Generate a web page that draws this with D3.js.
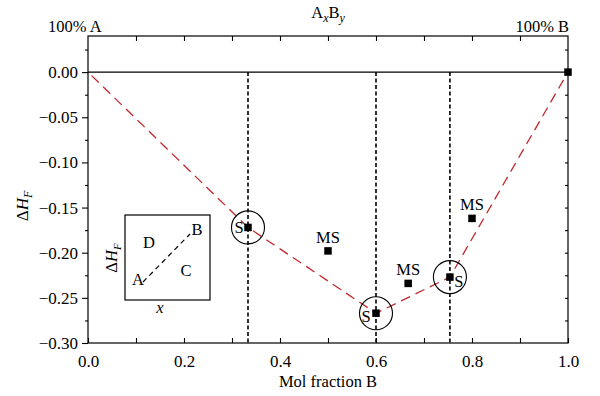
<!DOCTYPE html>
<html>
<head>
<meta charset="utf-8">
<script src="https://cdn.jsdelivr.net/npm/d3@7"></script>
</head>
<body style="margin:0; background:#fff">
<svg id="chart" width="600" height="396"></svg>
<script>
// data
const stableX = [1/3, 0.6, 0.754];
const stableY = [-0.172, -0.267, -0.227];
const msX = [0.5, 0.667, 0.8];
const msY = [-0.198, -0.234, -0.162];
const endX = [1.0];
const endY = [0.0];
const hullX = [0, 1/3, 0.6, 0.754, 1.0];
const hullY = [0, -0.172, -0.267, -0.227, 0];
const xTickLabels = [0, 0.2, 0.4, 0.6, 0.8, 1.0];
const yTickLabels = [0, -0.05, -0.10, -0.15, -0.20, -0.25, -0.30];
const stableLabel = ["S", "S", "S"];
const msLabel = ["MS", "MS", "MS"];

// label offsets for S (pixels)
const sOff = [[-9, 2], [-10, 5], [9, 6]];
const FS = 16.5, TFS = 17;

const svg = d3.select('#chart');
const L = 88, R = 568, T = 36, B = 343;

const x = d3.scaleLinear().domain([0, 1]).range([L, R]);
const y = d3.scaleLinear().domain([-0.30, 0.04]).range([B, T]);

// frame
svg.append('rect')
  .attr('x', L).attr('y', T).attr('width', R - L).attr('height', B - T)
  .attr('fill', 'none').attr('stroke', '#000').attr('stroke-width', 1.2);

// bottom axis, ticks inward
const xAxisB = d3.axisBottom(x).tickValues(d3.range(0, 1.01, 0.1)).tickSizeInner(-5).tickSizeOuter(0)
  .tickFormat(d => xTickLabels.some(v => Math.abs(v - d) < 1e-9) ? d3.format('.1f')(d) : '');
const gb = svg.append('g').attr('transform', `translate(0,${B})`).call(xAxisB);
gb.select('.domain').remove();
gb.selectAll('text').attr('y', 12).attr('dy', '0.71em');

// top axis
const gt = svg.append('g').attr('transform', `translate(0,${T})`)
  .call(d3.axisTop(x).tickValues(d3.range(0.1, 0.95, 0.1)).tickSizeInner(-5).tickSizeOuter(0).tickFormat(''));
gt.select('.domain').remove();

// left axis, outward
const gl = svg.append('g').attr('transform', `translate(${L},0)`)
  .call(d3.axisLeft(y).tickValues(yTickLabels).tickSize(6).tickPadding(4).tickFormat(d3.format('.2f')));
gl.select('.domain').remove();
const glm = svg.append('g').attr('transform', `translate(${L},0)`)
  .call(d3.axisLeft(y).tickValues(d3.range(-0.275, 0.03, 0.05)).tickSize(3).tickFormat(''));
glm.select('.domain').remove();

// right axis minor ticks inward
const gr = svg.append('g').attr('transform', `translate(${R},0)`)
  .call(d3.axisRight(y).tickValues(d3.range(-0.275, 0.03, 0.025)).tickSize(-3).tickFormat(''));
gr.select('.domain').remove();

svg.selectAll('g').attr('font-size', TFS);
svg.selectAll('.tick line').attr('stroke-width', 1.1);

// zero line
svg.append('line')
  .attr('x1', L).attr('x2', R).attr('y1', y(0)).attr('y2', y(0))
  .attr('stroke', '#000').attr('stroke-width', 1.1);

// vertical dashed lines
svg.selectAll('.vline').data(stableX).join('line')
  .attr('x1', d => x(d)).attr('x2', d => x(d))
  .attr('y1', y(0)).attr('y2', B)
  .attr('stroke', '#000').attr('stroke-width', 1.6).attr('stroke-dasharray', '4,2.5');

// hull line
const hull = hullX.map((v, i) => [v, hullY[i]]);
svg.append('path')
  .attr('d', d3.line().x(d => x(d[0])).y(d => y(d[1]))(hull))
  .attr('fill', 'none').attr('stroke', '#c0282d').attr('stroke-width', 1.3)
  .attr('stroke-dasharray', '10,6').attr('stroke-dashoffset', -5);

// circles around stable points
svg.selectAll('.ring').data(stableX).join('circle')
  .attr('cx', d => x(d)).attr('cy', (d, i) => y(stableY[i])).attr('r', 16.5)
  .attr('fill', 'none').attr('stroke', '#000').attr('stroke-width', 1.1);

// markers
const sq = 7.5;
const pts = stableX.map((v, i) => [v, stableY[i]])
  .concat(msX.map((v, i) => [v, msY[i]]))
  .concat(endX.map((v, i) => [v, endY[i]]));
svg.selectAll('.pt').data(pts).join('rect')
  .attr('x', d => x(d[0]) - sq / 2).attr('y', d => y(d[1]) - sq / 2)
  .attr('width', sq).attr('height', sq).attr('fill', '#000');

// S labels
svg.selectAll('.slab').data(stableX).join('text')
  .attr('x', (d, i) => x(d) + sOff[i][0]).attr('y', (d, i) => y(stableY[i]) + sOff[i][1])
  .attr('text-anchor', 'middle').attr('dominant-baseline', 'middle')
  .attr('font-size', FS).text((d, i) => stableLabel[i]);

// MS labels
svg.selectAll('.mslab').data(msX).join('text')
  .attr('x', d => x(d)).attr('y', (d, i) => y(msY[i]) - 8)
  .attr('text-anchor', 'middle').attr('font-size', FS).text((d, i) => msLabel[i]);

// axis titles
svg.append('text').attr('x', (L + R) / 2).attr('y', 387).attr('text-anchor', 'middle')
  .attr('font-size', FS).text('Mol fraction B');

const ylab = svg.append('text').attr('transform', 'translate(28,206) rotate(-90)')
  .attr('text-anchor', 'middle').attr('font-size', 17);
ylab.append('tspan').text('Δ');
ylab.append('tspan').attr('font-style', 'italic').text('H');
ylab.append('tspan').attr('font-style', 'italic').attr('font-size', 12).attr('dy', 4).text('F');

const topTitle = svg.append('text').attr('x', (L + R) / 2).attr('y', 18).attr('text-anchor', 'middle').attr('font-size', FS);
topTitle.append('tspan').text('A');
topTitle.append('tspan').attr('font-style', 'italic').attr('font-size', 12).attr('dy', 4).text('x');
topTitle.append('tspan').attr('dy', -4).text('B');
topTitle.append('tspan').attr('font-style', 'italic').attr('font-size', 12).attr('dy', 4).text('y');

svg.append('text').attr('x', 48).attr('y', 32).attr('font-size', FS).text('100% A');
svg.append('text').attr('x', R + 1).attr('y', 32).attr('text-anchor', 'end').attr('font-size', FS).text('100% B');

// inset schematic
const inset = svg.append('g').attr('transform', 'translate(125,215)');
inset.append('rect').attr('width', 85).attr('height', 85)
  .attr('fill', 'none').attr('stroke', '#000').attr('stroke-width', 1.2);
inset.append('line').attr('x1', 18).attr('y1', 67).attr('x2', 65).attr('y2', 19)
  .attr('stroke', '#000').attr('stroke-width', 1.2).attr('stroke-dasharray', '5,4');
[['A', 13, 66], ['B', 72, 16], ['D', 24, 29], ['C', 61, 57]].forEach(d => {
  inset.append('text').attr('x', d[1]).attr('y', d[2]).attr('text-anchor', 'middle')
    .attr('dominant-baseline', 'middle').attr('font-size', FS).text(d[0]);
});
inset.append('text').attr('x', 35).attr('y', 98).attr('text-anchor', 'middle')
  .attr('font-size', FS).attr('font-style', 'italic').text('x');
const il = inset.append('text').attr('transform', 'translate(-8,43) rotate(-90)')
  .attr('text-anchor', 'middle').attr('font-size', FS);
il.append('tspan').text('Δ');
il.append('tspan').attr('font-style', 'italic').text('H');
il.append('tspan').attr('font-style', 'italic').attr('font-size', 11).attr('dy', 4).text('F');

// serif everywhere
svg.selectAll('text').style('font-family', '"Liberation Serif"').attr('fill', '#000');
</script>
</body>
</html>
